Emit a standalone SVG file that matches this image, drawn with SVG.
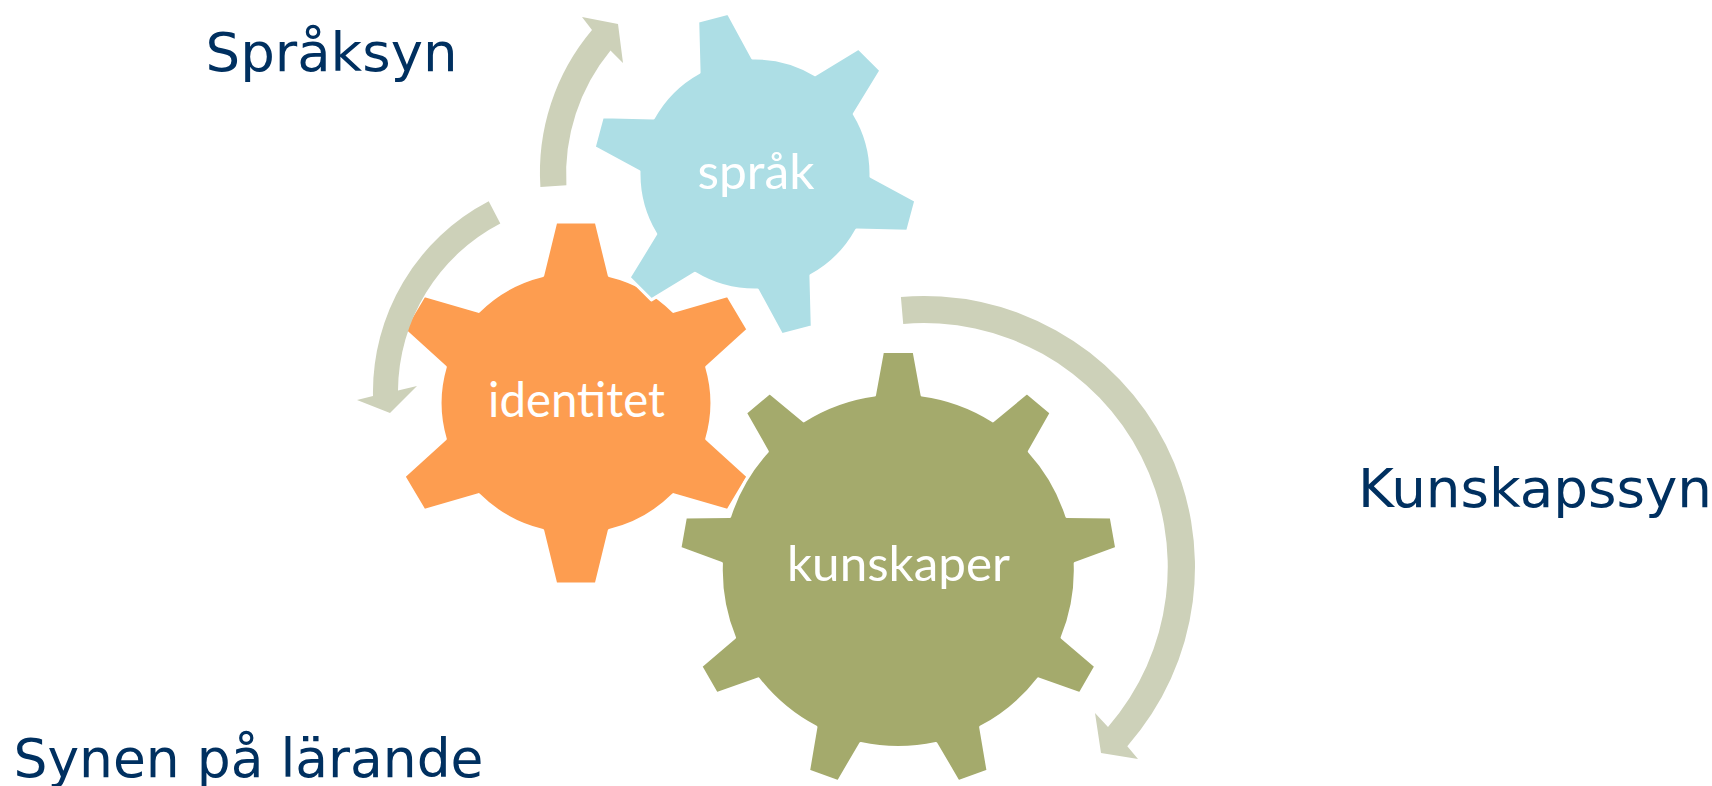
<svg xmlns="http://www.w3.org/2000/svg" width="1712" height="786" viewBox="0 0 1712 786">
<style>
.gear{stroke:#FFFFFF;stroke-width:3;stroke-linejoin:round}
.g-orange{fill:#FD9D50}
.g-blue{fill:#ADDEE5}
.g-green{fill:#A4AA6C}
.arrow{fill:#CDD1B9}
.glabel{font-family:Lato,"Open Sans","Noto Sans",sans-serif;font-size:48px;fill:#FFFFFF;text-anchor:middle}
.olabel{font-family:"DejaVu Sans",Verdana,sans-serif;font-size:53px;fill:#003060}
</style>
<rect width="1712" height="786" fill="#FFFFFF"/>
<g id="identitet">
<path class="gear g-orange" vector-effect="non-scaling-stroke" transform="translate(576,403) scale(1.033,1)" d="M-32.19,-127.5 L-19.6,-180.94 L19.6,-180.94 L32.19,-127.5 A131.5,131.5 0 0 1 94.31,-91.63 L146.91,-107.43 L166.49,-73.49 L126.52,-35.87 A131.5,131.5 0 0 1 126.52,35.87 L166.49,73.49 L146.91,107.43 L94.31,91.63 A131.5,131.5 0 0 1 32.19,127.5 L19.6,180.94 L-19.6,180.94 L-32.19,127.5 A131.5,131.5 0 0 1 -94.31,91.63 L-146.91,107.43 L-166.49,73.49 L-126.52,35.87 A131.5,131.5 0 0 1 -126.52,-35.87 L-166.49,-73.49 L-146.91,-107.43 L-94.31,-91.63 A131.5,131.5 0 0 1 -32.19,-127.5 Z"/>
<text class="glabel" x="576.5" y="417" textLength="177" lengthAdjust="spacingAndGlyphs">identitet</text>
</g>
<g id="sprak">
<path class="gear g-blue" d="M699.08,72.37 L697.75,21.38 L728.27,13.2 L752.61,58.02 A116,116 0 0 1 815.05,74.75 L858.57,48.13 L880.87,70.43 L854.25,113.95 A116,116 0 0 1 870.98,176.39 L915.8,200.73 L907.62,231.25 L856.63,229.92 A116,116 0 0 1 810.92,275.63 L812.25,326.62 L781.73,334.8 L757.39,289.98 A116,116 0 0 1 694.95,273.25 L651.43,299.87 L629.13,277.57 L655.75,234.05 A116,116 0 0 1 639.02,171.61 L594.2,147.27 L602.38,116.75 L653.37,118.08 A116,116 0 0 1 699.08,72.37 Z"/>
<text class="glabel" x="756" y="189" textLength="117" lengthAdjust="spacingAndGlyphs">språk</text>
</g>
<g id="kunskaper">
<path class="gear g-green" transform="translate(898.3,570.5)" d="M-23.81,-175.39 L-15.8,-218.93 L15.8,-218.93 L23.81,-175.39 A177,177 0 0 1 94.5,-149.65 L128.63,-177.86 L152.84,-157.56 L130.98,-119.05 A177,177 0 0 1 168.61,-53.9 L212.85,-53.58 L218.36,-22.45 L176.86,-7.01 A177,177 0 0 1 163.8,67.08 L197.51,95.79 L181.68,123.16 L139.99,108.32 A177,177 0 0 1 82.36,156.66 L89.73,200.32 L60.01,211.14 L37.61,172.95 A177,177 0 0 1 -37.61,172.95 L-60.01,211.14 L-89.73,200.32 L-82.36,156.66 A177,177 0 0 1 -139.99,108.32 L-181.68,123.16 L-197.51,95.79 L-163.8,67.08 A177,177 0 0 1 -176.86,-7.01 L-218.36,-22.45 L-212.85,-53.58 L-168.61,-53.9 A177,177 0 0 1 -130.98,-119.05 L-152.84,-157.56 L-128.63,-177.86 L-94.5,-149.65 A177,177 0 0 1 -23.81,-175.39 Z"/>
<text class="glabel" x="898.5" y="581" textLength="223" lengthAdjust="spacingAndGlyphs">kunskaper</text>
</g>
<g id="connectors">
<path class="arrow" d="M540.4,186.9 A221,221 0 0 1 592,30 L582,17 L618,24 L623,63 L610.5,50.5 A195,195 0 0 0 566.4,185.2 Z"/>
<path class="arrow" d="M488.7,201.3 A215,215 0 0 0 373,396 L357,400 L390,413 L417,386 L398,390.5 A190,190 0 0 1 500.3,223.5 Z"/>
<path class="arrow" d="M900.9,297 A271,271 0 0 1 1127.3,746.2 L1138,759 L1101,753 L1095,713 L1108,727 A244,244 0 0 0 903.2,323.9 Z"/>
</g>
<g id="label-spraksyn"><text class="olabel" x="205.5" y="71" textLength="252" lengthAdjust="spacingAndGlyphs">Språksyn</text></g>
<g id="label-kunskapssyn"><text class="olabel" x="1358" y="507" textLength="354" lengthAdjust="spacingAndGlyphs">Kunskapssyn</text></g>
<g id="label-synen"><text class="olabel" x="13.5" y="777" textLength="470" lengthAdjust="spacingAndGlyphs">Synen på lärande</text></g>
</svg>
